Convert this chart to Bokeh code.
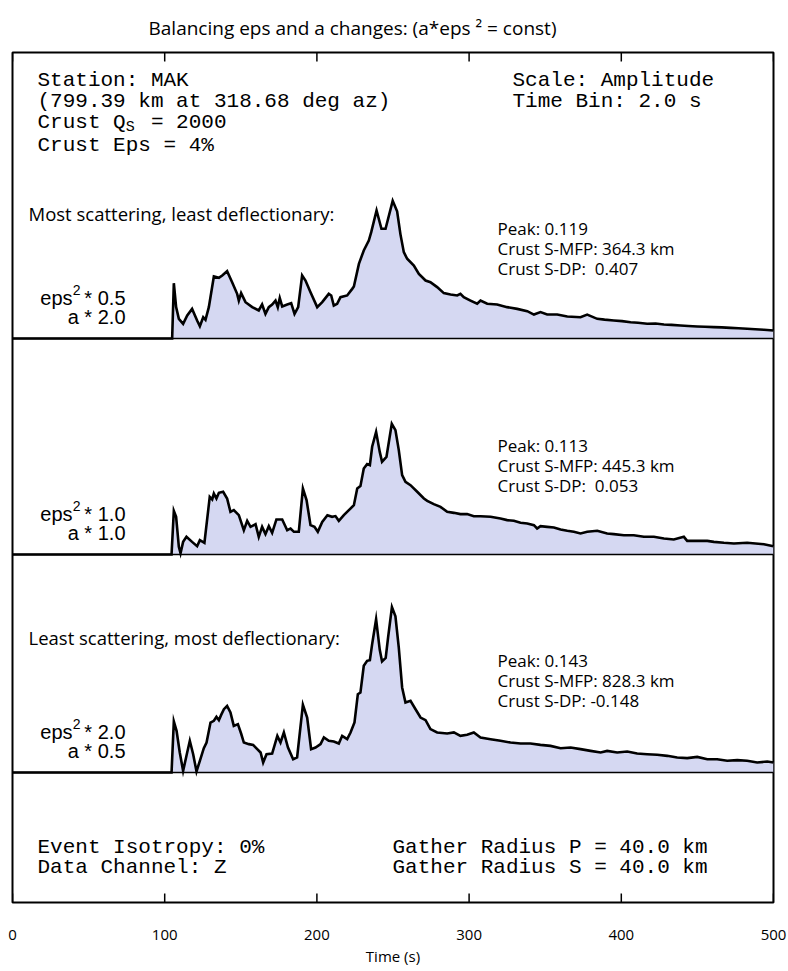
from bokeh.plotting import figure
from bokeh.models import Range1d, FixedTicker, Span, Title
from bokeh.core.properties import value
from bokeh.embed import file_html
from bokeh.resources import INLINE

# ---------------- data ----------------
time_ticks = [0, 100, 200, 300, 400, 500]

# eps^2 * 0.5, a * 2.0  (most scattering, least deflectionary)
t1 = [0, 104.9, 106.0, 107.5, 109.3, 112.1, 114.8, 118.0, 121.3, 123.1, 125.3, 126.8,
      129.0, 132.3, 135.6, 137.8, 141.0, 144.3, 147.6, 148.7, 150.2, 153.1, 157.5,
      161.8, 164.0, 166.2, 168.4, 170.6, 172.8, 174.3, 175.6, 177.2, 180.5, 183.1,
      185.3, 187.7, 190.3, 192.5, 195.8, 200.2, 203.5, 207.8, 209.4, 211.1, 213.3,
      215.5, 219.9, 223.2, 224.3, 227.6, 230.8, 234.1, 235.7, 239.2, 242.4, 245.1,
      249.8, 252.7, 254.9, 257.1, 259.3, 263.7, 267.0, 271.4, 274.6, 279.0, 283.4,
      287.8, 292.2, 294.3, 296.5, 300.9, 305.3, 307.5, 311.9, 318.4, 325.0, 331.6,
      338.2, 342.6, 346.9, 351.3, 357.9, 364.5, 373.2, 377.6, 384.2, 389.0, 395.1,
      400.5, 406.1, 411.0, 417.0, 422.5, 428.0, 433.0, 438.9, 444.0, 449.9, 455.0,
      460.8, 466.0, 471.8, 477.0, 482.7, 488.0, 493.7, 500.0]
amp1 = [0, 0, 0.0478, 0.0271, 0.0170, 0.0127, 0.0199, 0.0256, 0.0156, 0.0107, 0.0184,
        0.0161, 0.0271, 0.0536, 0.0524, 0.0545, 0.0582, 0.0487, 0.0386, 0.0328, 0.0392,
        0.0314, 0.0271, 0.0242, 0.0294, 0.0213, 0.0271, 0.0294, 0.0328, 0.0271, 0.0349,
        0.0277, 0.0294, 0.0305, 0.0213, 0.0271, 0.0545, 0.0501, 0.0400, 0.0271, 0.0314,
        0.0386, 0.0372, 0.0285, 0.0300, 0.0357, 0.0372, 0.0429, 0.0449, 0.0645, 0.0761,
        0.0847, 0.0919, 0.1106, 0.0948, 0.0948, 0.1190, 0.1100, 0.0900, 0.0746, 0.0689,
        0.0631, 0.0559, 0.0501, 0.0487, 0.0444, 0.0392, 0.0380, 0.0372, 0.0386, 0.0357,
        0.0328, 0.0300, 0.0328, 0.0300, 0.0294, 0.0271, 0.0256, 0.0236, 0.0207, 0.0228,
        0.0207, 0.0207, 0.0190, 0.0184, 0.0207, 0.0170, 0.0163, 0.0156, 0.0150, 0.0141,
        0.0136, 0.0127, 0.0129, 0.0121, 0.0118, 0.0112, 0.0108, 0.0104, 0.0101, 0.0098,
        0.0096, 0.0092, 0.0089, 0.0084, 0.0080, 0.0075, 0.0069]

# eps^2 * 1.0, a * 1.0
t2 = [0, 104.5, 106.0, 107.5, 109.3, 110.4, 112.1, 114.3, 118.0, 121.3, 123.1, 126.1,
      129.6, 131.2, 132.3, 134.0, 135.6, 138.4, 141.0, 143.2, 145.4, 148.7, 152.0,
      154.2, 156.4, 159.7, 161.8, 164.0, 166.2, 168.4, 170.6, 173.4, 177.2, 180.5,
      182.7, 184.9, 188.1, 190.8, 193.2, 195.8, 198.4, 200.6, 203.5, 206.9, 210.0,
      212.2, 214.4, 217.7, 221.0, 224.3, 226.5, 228.6, 230.8, 233.0, 234.8, 236.3,
      238.9, 241.3, 242.8, 245.7, 249.2, 251.6, 253.8, 256.0, 258.2, 261.5, 265.9,
      270.3, 272.5, 276.8, 281.2, 285.6, 290.0, 294.3, 298.7, 303.1, 307.5, 314.1,
      320.6, 325.0, 329.4, 333.8, 338.2, 342.6, 344.7, 346.9, 351.3, 355.7, 360.1,
      364.5, 368.8, 373.2, 377.6, 384.2, 390.7, 395.1, 401.7, 408.2, 414.8, 421.4,
      428.0, 434.5, 441.1, 443.3, 449.9, 456.5, 460.8, 467.4, 474.0, 482.7, 493.7, 500.0]
amp2 = [0, 0, 0.0377, 0.0326, 0.0066, 0.0010, 0.0109, 0.0153, 0.0109, 0.0072, 0.0124,
        0.0101, 0.0498, 0.0476, 0.0527, 0.0484, 0.0533, 0.0542, 0.0484, 0.0369, 0.0383,
        0.0340, 0.0210, 0.0291, 0.0239, 0.0262, 0.0153, 0.0239, 0.0176, 0.0245, 0.0187,
        0.0303, 0.0303, 0.0210, 0.0225, 0.0196, 0.0196, 0.0570, 0.0470, 0.0254, 0.0239,
        0.0196, 0.0282, 0.0340, 0.0326, 0.0332, 0.0291, 0.0340, 0.0383, 0.0426, 0.0570,
        0.0591, 0.0743, 0.0781, 0.0772, 0.0931, 0.1060, 0.0887, 0.0801, 0.0844, 0.1130,
        0.1075, 0.0902, 0.0686, 0.0628, 0.0599, 0.0542, 0.0484, 0.0464, 0.0435, 0.0412,
        0.0369, 0.0360, 0.0349, 0.0349, 0.0331, 0.0331, 0.0326, 0.0311, 0.0297, 0.0291,
        0.0274, 0.0268, 0.0254, 0.0225, 0.0245, 0.0239, 0.0233, 0.0216, 0.0205, 0.0196,
        0.0182, 0.0196, 0.0205, 0.0182, 0.0176, 0.0167, 0.0167, 0.0153, 0.0153, 0.0138,
        0.0130, 0.0153, 0.0118, 0.0118, 0.0118, 0.0109, 0.0101, 0.0095, 0.0101, 0.0089,
        0.0072]

# eps^2 * 2.0, a * 0.5  (least scattering, most deflectionary)
t3 = [0, 104.5, 106.0, 107.8, 109.9, 112.1, 114.3, 116.5, 118.7, 120.9, 123.1, 125.7,
      127.5, 130.1, 132.3, 134.0, 135.6, 137.1, 138.9, 141.0, 143.2, 145.4, 148.1,
      150.2, 152.0, 155.3, 158.1, 160.8, 163.0, 164.7, 166.9, 170.6, 174.0, 176.1,
      178.3, 181.0, 184.4, 187.0, 190.8, 193.6, 196.2, 199.1, 202.4, 204.6, 207.8,
      211.1, 214.4, 216.6, 219.9, 222.1, 224.7, 226.9, 228.6, 230.8, 233.0, 234.8,
      236.3, 238.9, 241.3, 242.8, 245.2, 246.8, 249.3, 251.6, 253.8, 256.0, 258.2,
      261.5, 264.8, 268.1, 271.4, 274.6, 279.0, 285.6, 290.0, 294.3, 298.7, 303.1,
      307.5, 314.1, 320.6, 327.2, 333.8, 340.3, 346.9, 353.5, 360.1, 366.7, 373.2,
      379.8, 386.4, 390.7, 397.3, 403.9, 410.4, 417.0, 423.6, 430.2, 436.7, 443.3,
      449.9, 456.5, 463.0, 469.6, 476.2, 482.7, 489.3, 495.9, 500.0]
amp3 = [0, 0, 0.0441, 0.0360, 0.0173, 0.0014, 0.0144, 0.0274, 0.0158, 0.0009, 0.0101,
        0.0210, 0.0259, 0.0432, 0.0447, 0.0481, 0.0452, 0.0498, 0.0547, 0.0576, 0.0519,
        0.0403, 0.0418, 0.0337, 0.0259, 0.0245, 0.0239, 0.0202, 0.0173, 0.0086, 0.0158,
        0.0164, 0.0317, 0.0259, 0.0346, 0.0216, 0.0115, 0.0130, 0.0585, 0.0475, 0.0202,
        0.0216, 0.0245, 0.0303, 0.0274, 0.0268, 0.0251, 0.0317, 0.0288, 0.0346, 0.0432,
        0.0677, 0.0691, 0.0922, 0.0965, 0.0971, 0.1109, 0.1325, 0.1060, 0.0960, 0.0990,
        0.1170, 0.1430, 0.1350, 0.1080, 0.0735, 0.0605, 0.0619, 0.0547, 0.0475, 0.0452,
        0.0375, 0.0346, 0.0337, 0.0346, 0.0317, 0.0326, 0.0346, 0.0303, 0.0288, 0.0274,
        0.0259, 0.0251, 0.0251, 0.0239, 0.0230, 0.0210, 0.0216, 0.0202, 0.0187, 0.0173,
        0.0187, 0.0173, 0.0182, 0.0164, 0.0158, 0.0153, 0.0144, 0.0130, 0.0124, 0.0135,
        0.0115, 0.0115, 0.0101, 0.0107, 0.0101, 0.0086, 0.0095, 0.0086]

peak_values = [0.119, 0.113, 0.143]
crust_mfp_km = [364.3, 445.3, 828.3]
crust_dp = [0.407, 0.053, -0.148]
eps2_factors = ["0.5", "1.0", "2.0"]
a_factors = ["2.0", "1.0", "0.5"]
panel_headings = ["Most scattering, least deflectionary:", None,
                  "Least scattering, most deflectionary:"]

# ---------------- layout ----------------
W, H = 788, 971
FRAME_L, FRAME_R, FRAME_T, FRAME_B = 12, 773, 52, 902
GAIN = 1157.0                       # screen px per unit amplitude
PX_PER_S = (FRAME_R - FRAME_L) / 500.0
BASELINE_PX = [338, 554, 772]
PEAKTXT_PX = [228, 445, 660]
TICK_LEN = 9
NBSP = "\u00a0"

MONO = value("Liberation Mono")
SANS = value("Open Sans")
HELV = value("Liberation Sans")
FILL = "#d5d8f2"


def ydat(py):
    return (FRAME_B - py) / GAIN


def xdat(px):
    return (px - FRAME_L) / PX_PER_S


p = figure(width=W, height=H, x_range=Range1d(0, 500),
           y_range=Range1d(0, ydat(FRAME_T)),
           output_backend="svg", toolbar_location=None, y_axis_location=None,
           min_border_left=FRAME_L, min_border_right=W - FRAME_R,
           min_border_top=FRAME_T, min_border_bottom=H - FRAME_B)
p.grid.visible = False
p.outline_line_color = "black"
p.outline_line_width = 2
p.background_fill_color = "white"
p.border_fill_color = "white"

# title (exponent written as a superscript character)
p.add_layout(Title(text="Balancing eps and a changes: (a*eps \u00b2 = const)",
                   align="left", offset=136, standoff=24,
                   text_font="Open Sans", text_font_size="19px",
                   text_font_style="normal", text_color="black"), "above")

# bottom time axis: labels only, ticks drawn inward below
xa = p.xaxis[0]
xa.ticker = FixedTicker(ticks=time_ticks)
xa.major_tick_line_color = None
xa.major_tick_out = 0
xa.major_tick_in = 0
xa.minor_tick_line_color = None
xa.axis_line_color = None
xa.major_label_text_font = "Open Sans"
xa.major_label_text_font_size = "15px"
xa.major_label_text_color = "black"
xa.major_label_standoff = 27
xa.axis_label = "Time (s)"
xa.axis_label_text_font = "Open Sans"
xa.axis_label_text_font_size = "15px"
xa.axis_label_text_font_style = "normal"
xa.axis_label_text_color = "black"
xa.axis_label_standoff = 3

# inward tick marks on bottom and top edges
y_top = ydat(FRAME_T)
tick_h = TICK_LEN / GAIN
p.segment(x0=time_ticks, y0=[0] * len(time_ticks), x1=time_ticks,
          y1=[tick_h] * len(time_ticks), line_color="black", line_width=1.5)
p.segment(x0=time_ticks, y0=[y_top] * len(time_ticks), x1=time_ticks,
          y1=[y_top - tick_h] * len(time_ticks), line_color="black", line_width=1.5)

traces = [(t1, amp1), (t2, amp2), (t3, amp3)]
for k, (tt, aa) in enumerate(traces):
    base = ydat(BASELINE_PX[k])
    yy = [base + a for a in aa]
    p.varea(x=tt, y1=[base] * len(tt), y2=yy, fill_color=FILL)
    p.add_layout(Span(location=base, dimension="width", line_color="black", line_width=1.5))
    p.line(tt, yy, line_color="black", line_width=2.6, line_join="miter")

    # per-panel annotations
    dp_txt = "%.3f" % crust_dp[k]
    lines = ["Peak: %.3f" % peak_values[k],
             "Crust S-MFP: %.1f km" % crust_mfp_km[k],
             "Crust S-DP:" + (" " + NBSP if crust_dp[k] >= 0 else " ") + dp_txt]
    py0 = PEAKTXT_PX[k]
    p.text(x=[xdat(497)] * 3, y=[ydat(py0 + 20 * i) for i in range(3)], text=lines,
           text_font=SANS, text_font_size="17px", text_baseline="middle",
           text_align="left", text_color="black")

    # eps^2 / a factor labels, right aligned
    ey = BASELINE_PX[k] - 41
    ay = BASELINE_PX[k] - 22
    p.text(x=[xdat(125)], y=[ydat(ey)], text=["* " + eps2_factors[k]], text_font=HELV,
           text_font_size="20px", text_baseline="middle", text_align="right")
    p.text(x=[xdat(80)], y=[ydat(ey - 8)], text=["2"], text_font=HELV,
           text_font_size="14px", text_baseline="middle", text_align="right")
    p.text(x=[xdat(72)], y=[ydat(ey)], text=["eps"], text_font=HELV,
           text_font_size="20px", text_baseline="middle", text_align="right")
    p.text(x=[xdat(125)], y=[ydat(ay)], text=["a * " + a_factors[k]], text_font=HELV,
           text_font_size="20px", text_baseline="middle", text_align="right")

    if panel_headings[k]:
        hy = BASELINE_PX[k] - 125 if k == 0 else BASELINE_PX[k] - 135
        p.text(x=[xdat(28)], y=[ydat(hy)], text=[panel_headings[k]], text_font=SANS,
               text_font_size="18.5px", text_baseline="middle", text_align="left")

# header block (monospace)
CH = 12.6   # monospace advance at 21px
mono_kw = dict(text_font=MONO, text_font_size="21px", text_baseline="middle",
               text_align="left", text_color="black")
p.text(x=[xdat(37)] * 2, y=[ydat(80), ydat(101)],
       text=["Station: MAK", "(799.39 km at 318.68 deg az)"], **mono_kw)
p.text(x=[xdat(37)], y=[ydat(122)], text=["Crust Q"], **mono_kw)
p.text(x=[xdat(37 + 7 * CH)], y=[ydat(127)], text=["S"], text_font=MONO,
       text_font_size="15px", text_baseline="middle", text_align="left")
p.text(x=[xdat(37 + 9 * CH)], y=[ydat(122)], text=["= 2000"], **mono_kw)
p.text(x=[xdat(37)], y=[ydat(145)], text=["Crust Eps = 4%"], **mono_kw)
p.text(x=[xdat(512)] * 2, y=[ydat(80), ydat(101)],
       text=["Scale: Amplitude", "Time Bin: 2.0 s"], **mono_kw)

# footer block (monospace)
p.text(x=[xdat(37)] * 2, y=[ydat(847), ydat(867)],
       text=["Event Isotropy: 0%", "Data Channel: Z"], **mono_kw)
p.text(x=[xdat(392)] * 2, y=[ydat(847), ydat(867)],
       text=["Gather Radius P = 40.0 km", "Gather Radius S = 40.0 km"], **mono_kw)

open("out.html", "w").write(file_html(p, INLINE))
